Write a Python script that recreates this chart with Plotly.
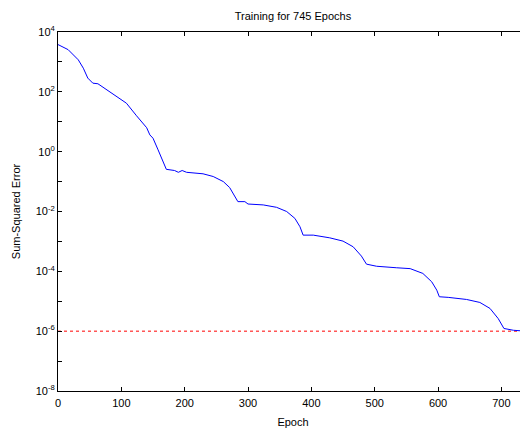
import plotly.graph_objects as go

# Training curve (epoch, log10 of sum-squared error)
epochs = [0, 16, 32, 40, 47, 55, 63, 76, 92, 108, 124, 140, 145, 150, 158, 171,
          184, 190, 196, 203, 229, 245, 261, 271, 284, 295, 300, 324, 345, 361,
          374, 382, 387, 403, 429, 450, 466, 479, 487, 503, 534, 556, 576, 590,
          598, 602, 616, 645, 666, 682, 695, 704, 719, 740, 745]
log_sse = [3.58, 3.41, 3.07, 2.79, 2.46, 2.29, 2.27, 2.09, 1.84, 1.62, 1.20, 0.80, 0.56, 0.45, 0.06, -0.59,
           -0.63, -0.69, -0.63, -0.69, -0.74, -0.83, -1.00, -1.20, -1.67, -1.67, -1.75, -1.78, -1.86, -2.00,
           -2.23, -2.51, -2.79, -2.79, -2.88, -2.99, -3.18, -3.49, -3.76, -3.83, -3.88, -3.91, -4.07, -4.35,
           -4.63, -4.85, -4.87, -4.94, -5.04, -5.24, -5.58, -5.91, -5.97, -5.99, -6.01]
sse = [10 ** v for v in log_sse]

goal_x = [0, 745]
goal_y = [1e-6, 1e-6]

y_exps = list(range(-8, 5))
y_tickvals = [10 ** e for e in y_exps]
y_ticktext = [f"10<sup>{e}</sup>" if e % 2 == 0 else "" for e in y_exps]
x_tickvals = [0, 100, 200, 300, 400, 500, 600, 700]

font = "Liberation Sans, Arial, sans-serif"

fig = go.Figure()
fig.add_trace(go.Scatter(x=goal_x, y=goal_y, mode="lines",
                         line=dict(color="red", width=1, dash="dot"),
                         showlegend=False, hoverinfo="skip"))
fig.add_trace(go.Scatter(x=epochs, y=sse, mode="lines",
                         line=dict(color="rgb(0,0,255)", width=1),
                         showlegend=False))

axis_common = dict(showline=True, linecolor="black", linewidth=1, mirror="allticks",
                   ticks="inside", ticklen=4, tickcolor="black", showgrid=False,
                   zeroline=False, tickfont=dict(family=font, size=11, color="black"))

# the page body has an 8px margin, so the figure is drawn 8px right and down
fig.update_layout(
    width=520, height=422,
    margin=dict(l=50, r=0, t=24, b=39, autoexpand=False),
    paper_bgcolor="white", plot_bgcolor="white",
    title=dict(text="Training for 745 Epochs", x=0.548, xanchor="center",
               y=1 - 8 / 422, yanchor="middle",
               font=dict(family=font, size=11, color="black")),
    xaxis=dict(range=[0, 742], tickvals=x_tickvals, ticklabelstandoff=2,
               title=dict(text="Epoch", standoff=10,
                          font=dict(family=font, size=11, color="black")),
               **axis_common),
    yaxis=dict(type="log", range=[-8, 4], tickvals=y_tickvals, ticktext=y_ticktext,
               title=dict(text="Sum-Squared Error", standoff=12,
                          font=dict(family=font, size=11, color="black")),
               **axis_common),
)

fig.write_html("out.html")
